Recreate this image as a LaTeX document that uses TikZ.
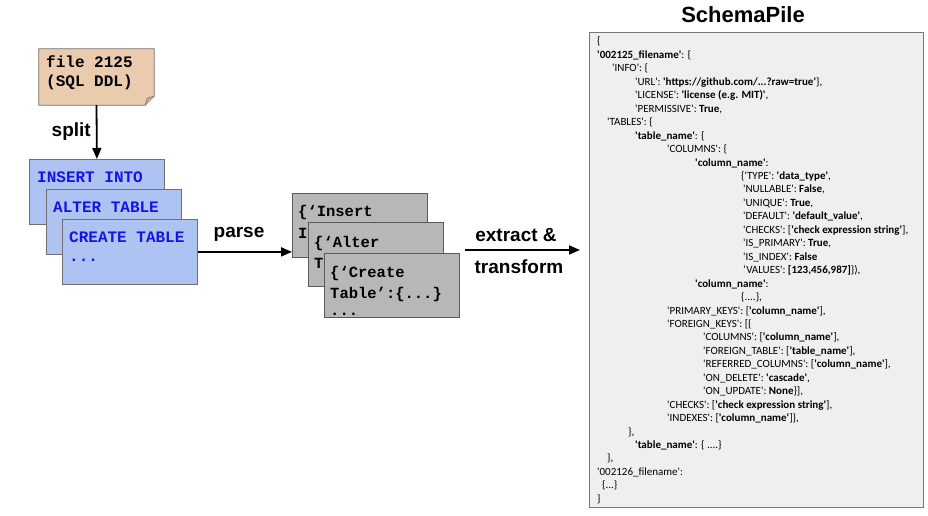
\documentclass[tikz,border=0pt]{standalone}
\usepackage{fontspec}
\setmainfont{Carlito}[Ligatures=TeXOff]
\newfontfamily\arialf{Liberation Sans}
\newfontfamily\monof{Liberation Mono}
\usetikzlibrary{arrows.meta,calc}
\definecolor{tanf}{HTML}{EACBAE}
\definecolor{tand}{HTML}{C9AC92}
\definecolor{bluef}{HTML}{AEC3F2}
\definecolor{bluebd}{HTML}{707070}
\definecolor{bluet}{HTML}{1414E6}
\definecolor{grayf}{HTML}{B7B7B7}
\definecolor{graybd}{HTML}{5A5A5A}
\definecolor{jsonf}{HTML}{EFEFEF}
\definecolor{jsonbd}{HTML}{777777}
\newcommand\jb[1]{\textbf{#1}}
\newcommand\jline[3]{\node[jl] (l#1) at (#2,{45+(#1-1)*13.45}) {#3};}
\begin{document}
\begin{tikzpicture}[x=1pt,y=-1pt,
  bluebox/.style={draw=bluebd, fill=bluef, line width=0.8pt, minimum width=135pt, minimum height=65pt, anchor=north west, inner sep=0pt},
  graybox/.style={draw=graybd, fill=grayf, line width=0.8pt, minimum width=135pt, minimum height=64pt, anchor=north west, inner sep=0pt},
  btxt/.style={font=\monof\bfseries\fontsize{16}{19}\selectfont, text=bluet, anchor=base west, inner sep=0pt},
  gtxt/.style={font=\monof\bfseries\fontsize{15.5}{19}\selectfont, text=black, anchor=base west, inner sep=0pt},
  ftxt/.style={font=\monof\bfseries\fontsize{16}{19}\selectfont, text=black, anchor=base west, inner sep=0pt},
  lbl/.style={font=\arialf\bfseries\fontsize{19}{22}\selectfont, inner sep=0pt},
  jl/.style={anchor=base west, inner sep=0pt, font=\fontsize{11}{13}\selectfont},
  arr/.style={line width=1.8pt, -{Triangle[length=11pt,width=9pt]}}]
\useasboundingbox (0,0) rectangle (928,516);

% file box
\node[minimum width=115pt, minimum height=56pt, inner sep=0pt] (file) at (96.5,77) {};
\draw[fill=tanf, draw=bluebd, line width=0.8pt] (file.north west) -- (file.north east) -- ($(file.south east)+(0,-9)$) -- ($(file.south east)+(-9,0)$) -- (file.south west) -- cycle;
\draw[fill=tand, draw=bluebd, line width=0.6pt] ($(file.south east)+(-9,0)$) -- ($(file.south east)+(-7,-7)$) -- ($(file.south east)+(0,-9)$);
\node[ftxt] (f1) at (46,68) {file 2125};
\node[ftxt] (f2) at (46,87) {(SQL DDL)};

% blue boxes
\node[bluebox] (b1) at (29,159) {};
\node[btxt] (bt1) at (37,182) {INSERT INTO};
\node[bluebox] (b2) at (46,189) {};
\node[btxt] (bt2) at (53,212) {ALTER TABLE};
\node[bluebox] (b3) at (62,219) {};
\node[btxt] (bt3) at (69,242) {CREATE TABLE};
\node[btxt] (bt4) at (69,261) {...};

\draw[arr] (file.south) -- (b1.north);
\node[lbl, anchor=east] (split) at (91,132) {split};

% gray boxes
\node[graybox] (g1) at (292,193) {};
\node[gtxt] (gt1) at (298,216) {\{‘Insert};
\node[gtxt] (gt1b) at (298,238) {I};
\node[graybox] (g2) at (308,222) {};
\node[gtxt] (gt2) at (314,247) {\{‘Alter};
\node[gtxt] (gt2b) at (314,268) {T};
\node[graybox] (g3) at (324,253) {};
\node[gtxt] (gt3) at (330,277) {\{‘Create};
\node[gtxt] (gt3b) at (330,298) {Table’:\{...\}};
\node[gtxt] (gt3c) at (330,315) {...};

\draw[arr] (b3.east) -- (b3.east -| g1.west);
\node[lbl] (parse) at (239,234) {parse};

% JSON box
\node[font=\arialf\bfseries\fontsize{22}{26}\selectfont, inner sep=0pt] (title) at (743,15) {SchemaPile};
\node[draw=jsonbd, fill=jsonf, line width=1pt, minimum width=334pt, minimum height=475pt, anchor=north west, inner sep=0pt] (json) at (589,32) {};

\coordinate (exA) at ($(g3.north east)+(5,-3)$);
\draw[arr, shorten >=9pt] (exA) -- (exA -| json.west);
\node[lbl] (ext1) at (516,235) {extract \&};
\node[lbl] (ext2) at (519,267) {transform};

\jline{1}{597}{\{}
\jline{2}{597}{\jb{'002125\_filename'}: \{}
\jline{3}{612}{'INFO': \{}
\jline{4}{635}{'URL': \jb{'https://github.com/...?raw=true'}\},}
\jline{5}{635}{'LICENSE': \jb{'license (e.g. MIT)'},}
\jline{6}{635}{'PERMISSIVE': \jb{True},}
\jline{7}{607}{'TABLES': \{}
\jline{8}{635}{\jb{'table\_name'}: \{}
\jline{9}{667}{'COLUMNS': \{}
\jline{10}{695}{\jb{'column\_name'}:}
\jline{11}{741}{\{'TYPE': \jb{'data\_type'},}
\jline{12}{743}{'NULLABLE': \jb{False},}
\jline{13}{743}{'UNIQUE': \jb{True},}
\jline{14}{743}{'DEFAULT': \jb{'default\_value'},}
\jline{15}{743}{'CHECKS': [\jb{'check expression string'}],}
\jline{16}{743}{'IS\_PRIMARY': \jb{True},}
\jline{17}{743}{'IS\_INDEX': \jb{False}}
\jline{18}{743}{‘VALUES': \jb{[123,456,987]}\}),}
\jline{19}{695}{\jb{'column\_name'}:}
\jline{20}{741}{\{....\},}
\jline{21}{667}{'PRIMARY\_KEYS': [\jb{'column\_name'}],}
\jline{22}{667}{'FOREIGN\_KEYS': [\{}
\jline{23}{703}{'COLUMNS': [\jb{'column\_name'}],}
\jline{24}{703}{'FOREIGN\_TABLE': [\jb{'table\_name'}],}
\jline{25}{703}{'REFERRED\_COLUMNS': [\jb{'column\_name'}],}
\jline{26}{703}{'ON\_DELETE': \jb{'cascade'},}
\jline{27}{703}{'ON\_UPDATE': \jb{None}\}],}
\jline{28}{667}{'CHECKS': [\jb{'check expression string'}],}
\jline{29}{667}{'INDEXES': [\jb{'column\_name'}]\},}
\jline{30}{628}{\},}
\jline{31}{635}{\jb{'table\_name'}: \{ ....\}}
\jline{32}{607}{\},}
\jline{33}{597}{'002126\_filename':}
\jline{34}{602}{\{...\}}
\jline{35}{597}{\}}
\end{tikzpicture}
\end{document}
